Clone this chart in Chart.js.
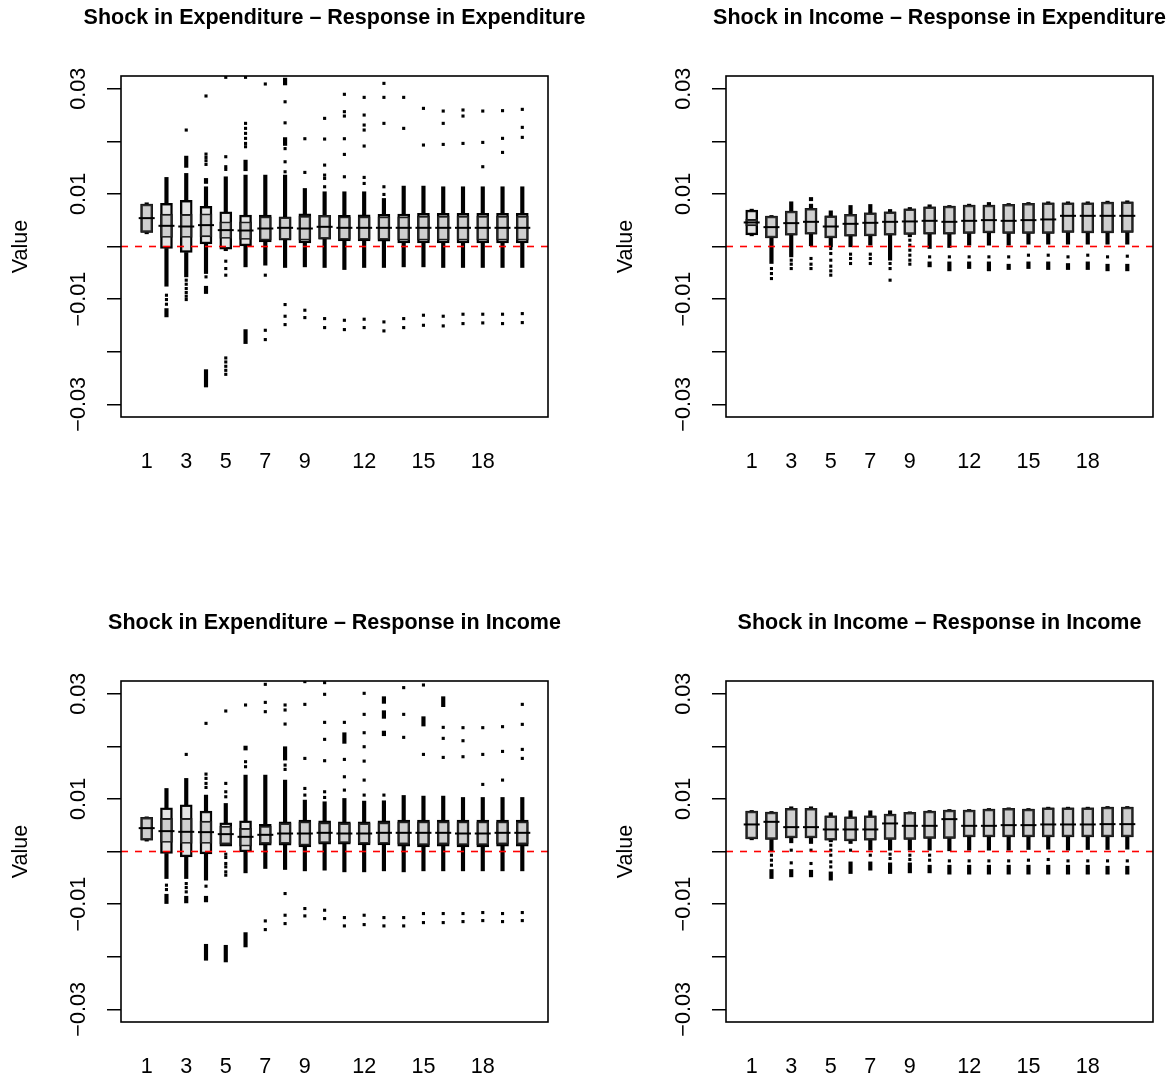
<!DOCTYPE html>
<html>
<head>
<meta charset="utf-8">
<script src="https://cdn.jsdelivr.net/npm/chart.js@4.4.1/dist/chart.umd.min.js"></script>
<style>
  html, body { margin: 0; padding: 0; background: #fff; overflow: hidden; }
  body { width: 1175px; height: 1082px; position: relative; }
  canvas { position: absolute; }
</style>
</head>
<body>
<canvas id="c1" width="669" height="477" style="left:0px;top:0px;"></canvas>
<canvas id="c2" width="669" height="477" style="left:605px;top:0px;"></canvas>
<canvas id="c3" width="669" height="477" style="left:0px;top:605px;"></canvas>
<canvas id="c4" width="669" height="477" style="left:605px;top:605px;"></canvas>
<script>
// ---------------- shared axes ----------------
const steps = [1,2,3,4,5,6,7,8,9,10,11,12,13,14,15,16,17,18,19,20];
const xTickValues = [1,3,5,7,9,12,15,18];
const yTickValues = [-0.03,-0.02,-0.01,0,0.01,0.02,0.03];
const yTickLabels = ['\u22120.03','','\u22120.01','','0.01','','0.03'];
const refLineValue = 0;
const titles = [
  'Shock in Expenditure \u2013 Response in Expenditure',
  'Shock in Income \u2013 Response in Expenditure',
  'Shock in Expenditure \u2013 Response in Income',
  'Shock in Income \u2013 Response in Income'
];

// ---------------- Panel 1: Expenditure -> Expenditure ----------------
const eeMedian = [0.00539,0.00393,0.00380,0.00406,0.00311,0.00304,0.00342,0.00355,0.00342,0.00374,0.00355,0.00355,0.00355,0.00355,0.00355,0.00355,0.00355,0.00355,0.00355,0.00355];
const eeBoxA = [[0.00266,0.00805],[-0.00038,0.00818],[-0.00114,0.00875],[0.00051,0.00761],[-0.00051,0.00659],[0.00013,0.00596],[0.00089,0.00596],[0.00120,0.00564],[0.00070,0.00621],[0.00140,0.00590],[0.00108,0.00590],[0.00108,0.00602],[0.00101,0.00609],[0.00070,0.00615],[0.00070,0.00628],[0.00070,0.00628],[0.00070,0.00628],[0.00070,0.00628],[0.00070,0.00628],[0.00070,0.00628]];
const eeBoxB = [[0.00266,0.00805],[0.00171,0.00615],[0.00171,0.00609],[0.00184,0.00621],[0.00152,0.00469],[0.00133,0.00469],[0.00120,0.00564],[0.00133,0.00552],[0.00120,0.00577],[0.00140,0.00590],[0.00133,0.00564],[0.00133,0.00564],[0.00133,0.00564],[0.00120,0.00564],[0.00120,0.00577],[0.00120,0.00577],[0.00120,0.00577],[0.00120,0.00577],[0.00120,0.00577],[0.00120,0.00577]];
const eeWhisker = [[0.00241,0.00831],[-0.00755,0.01313],[-0.00577,0.01389],[-0.00514,0.01135],[-0.00080,0.01325],[-0.00387,0.01357],[-0.00355,0.01357],[-0.00399,0.01357],[-0.00387,0.01103],[-0.00399,0.01040],[-0.00438,0.01040],[-0.00399,0.01040],[-0.00399,0.00913],[-0.00387,0.01148],[-0.00387,0.01148],[-0.00399,0.01135],[-0.00399,0.01135],[-0.00399,0.01135],[-0.00399,0.01135],[-0.00399,0.01135]];
const eeOutlierRuns = [[2,-0.01338,-0.01179],[3,0.01503,0.01718],[4,0.01198,0.01294],[4,-0.00894,-0.00755],[4,-0.0267,-0.0234],[6,0.01439,0.01642],[6,-0.01845,-0.01579],[8,0.0192,0.0207],[8,0.0307,0.0320]];
const eeOutliers = [
  [2,-0.00926],[2,-0.01008],[2,-0.01097],
  [3,0.02213],[3,-0.00640],[3,-0.00717],[3,-0.00799],[3,-0.00875],[3,-0.00945],[3,-0.01008],
  [4,0.01756],[4,0.01693],[4,0.01630],[4,0.01560],[4,0.0286],[4,-0.00577],
  [5,0.01706],[5,0.01516],[5,0.01465],[5,0.03215],[5,-0.00279],[5,-0.00419],[5,-0.00545],[5,-0.02118],[5,-0.02194],[5,-0.02276],[5,-0.02353],[5,-0.02429],
  [6,0.02340],[6,0.02245],[6,0.02150],[6,0.02055],[6,0.01959],[6,0.01896],[6,0.03215],
  [7,0.03088],[7,-0.00545],[7,-0.01592],[7,-0.01769],
  [8,0.0142],[8,0.0161],[8,0.0186],[8,0.0235],[8,0.0275],[8,-0.01103],[8,-0.01325],[8,-0.01484],
  [9,0.01408],[9,0.02048],[9,-0.01211],[9,-0.01351],
  [10,0.01135],[10,0.01294],[10,0.01357],[10,0.01547],[10,0.02042],[10,0.02435],[10,-0.01370],[10,-0.01541],
  [11,0.01325],[11,0.0175],[11,0.02048],[11,0.02479],[11,0.02562],[11,0.02892],[11,-0.01402],[11,-0.01579],
  [12,0.01198],[12,0.01313],[12,0.01909],[12,0.02213],[12,0.02308],[12,0.02498],[12,0.02834],[12,-0.01382],[12,-0.01541],
  [13,0.00989],[13,0.01135],[13,0.02340],[13,0.02834],[13,0.0310],[13,-0.01433],[13,-0.01604],
  [14,0.02245],[14,0.02834],[14,-0.01370],[14,-0.01541],
  [15,0.01928],[15,0.02625],[15,-0.01306],[15,-0.01497],
  [16,0.01940],[16,0.02340],[16,0.02574],[16,-0.01325],[16,-0.01509],
  [17,0.01959],[17,0.02479],[17,0.02594],[17,-0.01287],[17,-0.01465],
  [18,0.01516],[18,0.01978],[18,0.02574],[18,-0.01287],[18,-0.01452],
  [19,0.01788],[19,0.02055],[19,0.02581],[19,-0.01287],[19,-0.01465],
  [20,0.02074],[20,0.02264],[20,0.02606],[20,-0.01275],[20,-0.01446]
];

// ---------------- Panel 2: Income -> Expenditure ----------------
const ieMedian = [0.00457,0.00368,0.00444,0.00469,0.00380,0.00431,0.00450,0.00469,0.00476,0.00488,0.00469,0.00488,0.00501,0.00488,0.00501,0.00514,0.00583,0.00583,0.00583,0.00583];
const ieBoxA = [[0.00222,0.00691],[0.00165,0.00577],[0.00216,0.00672],[0.00235,0.00723],[0.00165,0.00583],[0.00197,0.00609],[0.00203,0.00640],[0.00216,0.00659],[0.00228,0.00717],[0.00235,0.00755],[0.00235,0.00767],[0.00247,0.00786],[0.00260,0.00786],[0.00247,0.00799],[0.00247,0.00818],[0.00247,0.00831],[0.00266,0.00831],[0.00260,0.00831],[0.00260,0.00843],[0.00266,0.00850]];
const ieBoxB = [[0.00393,0.00514],[0.00165,0.00577],[0.00216,0.00672],[0.00235,0.00723],[0.00165,0.00583],[0.00197,0.00609],[0.00203,0.00640],[0.00216,0.00659],[0.00228,0.00717],[0.00235,0.00755],[0.00235,0.00767],[0.00247,0.00786],[0.00260,0.00786],[0.00247,0.00799],[0.00247,0.00818],[0.00247,0.00831],[0.00266,0.00831],[0.00260,0.00831],[0.00260,0.00843],[0.00266,0.00850]];
const ieWhisker = [[0.00203,0.00710],[-0.00323,0.00590],[-0.00197,0.00850],[0.00013,0.00805],[-0.00006,0.00678],[-0.00006,0.00780],[0.00025,0.00799],[-0.00260,0.00704],[0.00184,0.00742],[-0.00038,0.00793],[-0.00019,0.00780],[0.00025,0.00805],[0.00025,0.00837],[0.00025,0.00818],[0.00044,0.00837],[0.00044,0.00850],[0.00044,0.00850],[0.00044,0.00850],[0.00044,0.00862],[0.00044,0.00869]];
const ieOutlierRuns = [[4,0.00869,0.00932],[10,-0.00387,-0.00292],[11,-0.00463,-0.00292],[12,-0.00419,-0.00292],[13,-0.00463,-0.00292],[14,-0.00438,-0.00336],[15,-0.00419,-0.00292],[16,-0.00438,-0.00292],[17,-0.00438,-0.00323],[18,-0.00438,-0.00292],[19,-0.00463,-0.00336],[20,-0.00463,-0.00336]];
const ieOutliers = [
  [2,-0.00419],[2,-0.00514],[2,-0.00609],
  [3,-0.00260],[3,-0.00336],[3,-0.00419],
  [4,-0.00228],[4,-0.00336],[4,-0.00419],
  [5,-0.00038],[5,-0.00133],[5,-0.00260],[5,-0.00374],[5,-0.00463],[5,-0.00545],
  [6,-0.00146],[6,-0.00228],[6,-0.00323],
  [7,-0.00146],[7,-0.00228],[7,-0.00323],
  [8,-0.00323],[8,-0.00419],[8,-0.00640],
  [9,0.00120],[9,0.00025],[9,-0.00070],[9,-0.00165],[9,-0.00260],[9,-0.00336],
  [10,-0.00197],[11,-0.00197],[12,-0.00197],[13,-0.00197],[14,-0.00197],[15,-0.00165],[16,-0.00165],[17,-0.00197],[18,-0.00165],[19,-0.00197],[20,-0.00184]
];

// ---------------- Panel 3: Expenditure -> Income ----------------
const eiMedian = [0.00444,0.00387,0.00374,0.00368,0.00330,0.00279,0.00317,0.00342,0.00342,0.00355,0.00342,0.00342,0.00355,0.00355,0.00355,0.00355,0.00342,0.00342,0.00355,0.00355];
const eiBoxA = [[0.00216,0.00647],[-0.00038,0.00831],[-0.00101,0.00888],[-0.00044,0.00767],[0.00101,0.00545],[-0.00006,0.00583],[0.00120,0.00514],[0.00120,0.00564],[0.00089,0.00596],[0.00140,0.00583],[0.00140,0.00564],[0.00127,0.00564],[0.00127,0.00583],[0.00101,0.00596],[0.00089,0.00596],[0.00101,0.00596],[0.00089,0.00596],[0.00089,0.00596],[0.00101,0.00596],[0.00101,0.00596]];
const eiBoxB = [[0.00216,0.00647],[0.00171,0.00628],[0.00152,0.00628],[0.00152,0.00577],[0.00140,0.00482],[0.00101,0.00438],[0.00152,0.00482],[0.00152,0.00533],[0.00120,0.00564],[0.00165,0.00545],[0.00165,0.00533],[0.00152,0.00533],[0.00152,0.00545],[0.00140,0.00564],[0.00127,0.00564],[0.00140,0.00564],[0.00127,0.00564],[0.00127,0.00564],[0.00140,0.00564],[0.00140,0.00564]];
const eiWhisker = [[0.00197,0.00659],[-0.00514,0.01198],[-0.00514,0.01389],[-0.00545,0.01072],[0.00101,0.00913],[-0.00406,0.01452],[-0.00323,0.01452],[-0.00342,0.01357],[-0.00368,0.00977],[-0.00355,0.00945],[-0.00387,0.01008],[-0.00387,0.00958],[-0.00368,0.00964],[-0.00387,0.01065],[-0.00368,0.01053],[-0.00368,0.01053],[-0.00368,0.01027],[-0.00368,0.01027],[-0.00368,0.01027],[-0.00368,0.01027]];
const eiOutlierRuns = [[2,-0.00989,-0.00812],[3,-0.00977,-0.00850],[4,-0.00958,-0.00850],[4,-0.02067,-0.01763],[5,-0.02099,-0.01782],[6,0.01928,0.02004],[6,-0.01814,-0.01541],[8,0.01737,0.01991],[11,0.02055,0.02257],[13,0.02200,0.02289],[13,0.02530,0.02676],[13,0.02815,0.02942],[15,0.02384,0.02562],[16,0.02752,0.02942]];
const eiOutliers = [
  [2,-0.00640],[2,-0.00723],
  [3,0.01845],[3,-0.00609],[3,-0.00685],[3,-0.00767],
  [4,0.01471],[4,0.01389],[4,0.01294],[4,0.01217],[4,0.02435],[4,-0.00659],
  [5,0.01294],[5,0.01135],[5,0.01040],[5,0.02670],[5,-0.00051],[5,-0.00114],[5,-0.00228],[5,-0.00292],[5,-0.00387],[5,-0.00450],
  [6,0.01611],[6,0.01706],[6,0.02784],
  [7,0.03177],[7,0.02834],[7,0.02657],[7,-0.01319],[7,-0.01484],
  [8,0.01560],[8,0.01642],[8,0.02422],[8,0.02689],[8,0.02784],[8,-0.00799],[8,-0.01211],[8,-0.01370],
  [9,0.01198],[9,0.01072],[9,0.01769],[9,0.02796],[9,0.03228],[9,-0.01084],[9,-0.01224],
  [10,0.01135],[10,0.01027],[10,0.01725],[10,0.02131],[10,0.02454],[10,0.02987],[10,0.03209],[10,-0.01116],[10,-0.01275],
  [11,0.01167],[11,0.01420],[11,0.01750],[11,0.02454],[11,-0.01256],[11,-0.01414],
  [12,0.01072],[12,0.01357],[12,0.01718],[12,0.01991],[12,0.02257],[12,0.02606],[12,0.03006],[12,-0.01211],[12,-0.01389],
  [13,0.01072],[13,-0.01256],[13,-0.01414],
  [14,0.02169],[14,0.02606],[14,0.03114],[14,-0.01256],[14,-0.01414],
  [15,0.01845],[15,0.03164],[15,-0.01179],[15,-0.01351],
  [16,0.01788],[16,0.02150],[16,0.02359],[16,-0.01179],[16,-0.01351],
  [17,0.01801],[17,0.02105],[17,0.02353],[17,-0.01179],[17,-0.01332],
  [18,0.01275],[18,0.01845],[18,0.02353],[18,-0.01160],[18,-0.01313],
  [19,0.01357],[19,0.01902],[19,0.02372],[19,-0.01179],[19,-0.01332],
  [20,0.01769],[20,0.01940],[20,0.02416],[20,0.02796],[20,-0.01160],[20,-0.01313]
];

// ---------------- Panel 4: Income -> Income ----------------
const iiMedian = [0.00514,0.00564,0.00463,0.00463,0.00419,0.00419,0.00419,0.00533,0.00488,0.00488,0.00615,0.00488,0.00488,0.00501,0.00501,0.00514,0.00514,0.00514,0.00520,0.00520];
const iiBoxA = [[0.00241,0.00767],[0.00228,0.00748],[0.00260,0.00818],[0.00260,0.00818],[0.00216,0.00679],[0.00203,0.00659],[0.00216,0.00679],[0.00228,0.00710],[0.00228,0.00742],[0.00247,0.00767],[0.00247,0.00786],[0.00279,0.00786],[0.00279,0.00805],[0.00279,0.00818],[0.00279,0.00805],[0.00279,0.00831],[0.00279,0.00831],[0.00279,0.00831],[0.00279,0.00843],[0.00279,0.00843]];
const iiBoxB = [[0.00241,0.00767],[0.00228,0.00748],[0.00260,0.00818],[0.00260,0.00818],[0.00216,0.00679],[0.00203,0.00659],[0.00216,0.00679],[0.00228,0.00710],[0.00228,0.00742],[0.00247,0.00767],[0.00247,0.00786],[0.00279,0.00786],[0.00279,0.00805],[0.00279,0.00818],[0.00279,0.00805],[0.00279,0.00831],[0.00279,0.00831],[0.00279,0.00831],[0.00279,0.00843],[0.00279,0.00843]];
const iiWhisker = [[0.00222,0.00780],[-0.00006,0.00761],[0.00165,0.00850],[0.00152,0.00850],[0.00184,0.00736],[0.00152,0.00774],[0.00025,0.00774],[0.00025,0.00774],[0.00025,0.00755],[0.00025,0.00780],[0.00013,0.00799],[0.00025,0.00799],[0.00025,0.00818],[0.00025,0.00831],[0.00038,0.00818],[0.00044,0.00843],[0.00025,0.00843],[0.00038,0.00843],[0.00038,0.00856],[0.00044,0.00856]];
const iiOutlierRuns = [[2,-0.00514,-0.00342],[3,-0.00482,-0.00342],[4,-0.00482,-0.00355],[5,-0.00545,-0.00387],[6,-0.00419,-0.00197],[7,-0.00355,-0.00197],[8,-0.00419,-0.00216],[9,-0.00406,-0.00216],[10,-0.00406,-0.00260],[11,-0.00431,-0.00260],[12,-0.00431,-0.00260],[13,-0.00431,-0.00260],[14,-0.00431,-0.00260],[15,-0.00431,-0.00260],[16,-0.00431,-0.00260],[17,-0.00431,-0.00260],[18,-0.00431,-0.00260],[19,-0.00431,-0.00279],[20,-0.00431,-0.00279]];
const iiOutliers = [
  [2,-0.00070],[2,-0.00165],[2,-0.00260],
  [3,0.00025],[3,-0.00216],
  [4,0.00025],[4,-0.00228],
  [5,0.00120],[5,0.00025],[5,-0.00070],[5,-0.00197],[5,-0.00292],
  [6,0.00025],[7,-0.00070],
  [8,-0.00051],[8,-0.00133],
  [9,-0.00070],[9,-0.00152],
  [10,-0.00070],[10,-0.00165],
  [11,-0.00178],[12,-0.00178],[13,-0.00178],[14,-0.00178],[15,-0.00165],[16,-0.00152],[17,-0.00178],[18,-0.00178],[19,-0.00178],[20,-0.00178]
];

// ---------------- rendering ----------------
const FONT = "'Liberation Sans', Arial, Helvetica, sans-serif";
Chart.defaults.font.family = FONT;
Chart.defaults.color = '#000';

const framePlugin = {
  id: 'frame',
  afterDatasetsDraw(chart) {
    const {ctx, chartArea: a} = chart;
    const y = chart.scales.y.getPixelForValue(refLineValue);
    ctx.save();
    ctx.beginPath();
    ctx.rect(a.left, a.top, a.right - a.left, a.bottom - a.top);
    ctx.clip();
    ctx.strokeStyle = '#ff0000';
    ctx.lineWidth = 1.6;
    ctx.setLineDash([7, 7]);
    ctx.beginPath();
    ctx.moveTo(a.left, y);
    ctx.lineTo(a.right, y);
    ctx.stroke();
    ctx.restore();
  },
  afterDraw(chart) {
    const {ctx, chartArea: a} = chart;
    ctx.save();
    ctx.strokeStyle = '#000';
    ctx.lineWidth = 1.6;
    ctx.strokeRect(a.left, a.top, a.right - a.left, a.bottom - a.top);
    ctx.restore();
  }
};

function makePanel(id, title, med, boxA, boxB, whisk, runs, pts) {
  const boxFill = 'rgba(128,128,128,0.21)';
  // whiskers are drawn from the box edges outward
  const upperWhisker = [], lowerWhisker = [];
  whisk.forEach((w, i) => {
    const top = Math.max(boxA[i][1], boxB[i][1]);
    const bot = Math.min(boxA[i][0], boxB[i][0]);
    if (w[1] > top) upperWhisker.push({x: steps[i], y: [top, w[1]]});
    if (w[0] < bot) lowerWhisker.push({x: steps[i], y: [w[0], bot]});
  });
  new Chart(document.getElementById(id), {
    type: 'bar',
    data: {
      datasets: [
        { type: 'scatter', order: 1, data: med.map((v, i) => ({x: steps[i], y: v})),
          pointStyle: 'line', radius: 8, borderWidth: 2, borderColor: '#000', backgroundColor: '#000' },
        { type: 'bar', order: 2, data: boxB.map((r, i) => ({x: steps[i], y: r})),
          barThickness: 12, backgroundColor: boxFill, borderColor: '#1a1a1a', borderWidth: 1.2, borderSkipped: false, grouped: false },
        { type: 'bar', order: 3, data: boxA.map((r, i) => ({x: steps[i], y: r})),
          barThickness: 12, backgroundColor: boxFill, borderColor: '#000', borderWidth: 1.8, borderSkipped: false, grouped: false },
        { type: 'scatter', order: 4, data: pts.map(p => ({x: p[0], y: p[1]})),
          pointStyle: 'rect', radius: 2.2, borderWidth: 0, backgroundColor: '#000' },
        { type: 'bar', order: 5, data: upperWhisker,
          barThickness: 3.5, backgroundColor: '#000', borderWidth: 0, grouped: false },
        { type: 'bar', order: 6, data: lowerWhisker,
          barThickness: 3.5, backgroundColor: '#000', borderWidth: 0, grouped: false },
        { type: 'bar', order: 7, data: runs.map(r => ({x: r[0], y: [r[1], r[2]]})),
          barThickness: 3.5, backgroundColor: '#000', borderWidth: 0, grouped: false }
      ]
    },
    options: {
      responsive: false,
      animation: false,
      events: [],
      layout: { padding: 0 },
      plugins: {
        legend: { display: false },
        tooltip: { enabled: false },
        title: { display: true, text: title, color: '#000',
          font: { size: 21.5, weight: 'bold', family: FONT }, padding: { top: 5, bottom: 45.2 } }
      },
      scales: {
        x: {
          type: 'linear', min: -0.3, max: 21.3, offset: false,
          afterBuildTicks: s => { s.ticks = xTickValues.map(v => ({value: v})); },
          afterFit: s => { s.height = 60; },
          grid: { display: false, drawTicks: false },
          border: { display: false },
          ticks: { font: { size: 21.6, family: FONT }, color: '#000', padding: 32, maxRotation: 0, autoSkip: false,
            callback: v => String(v) }
        },
        y: {
          type: 'linear', min: -0.0324, max: 0.0324,
          afterBuildTicks: s => { s.ticks = yTickValues.map(v => ({value: v})); },
          afterFit: s => { s.width = 121; },
          grid: { display: true, drawOnChartArea: false, drawTicks: true, tickLength: 14, color: '#000', lineWidth: 1.5 },
          border: { display: false },
          title: { display: true, text: 'Value', color: '#000', font: { size: 21.6, family: FONT }, padding: { top: 8, bottom: 0 } },
          ticks: { font: { size: 21.6, family: FONT }, color: '#000', padding: 1, minRotation: 90, maxRotation: 90,
            crossAlign: 'center', autoSkip: false,
            callback: (v) => yTickLabels[yTickValues.findIndex(t => Math.abs(t - v) < 1e-9)] }
        },
        yRight: {
          type: 'linear', position: 'right', min: -0.0324, max: 0.0324,
          afterFit: s => { s.width = 121; },
          grid: { display: false, drawTicks: false },
          border: { display: false },
          ticks: { display: false }
        }
      }
    },
    plugins: [framePlugin]
  });
}

makePanel('c1', titles[0], eeMedian, eeBoxA, eeBoxB, eeWhisker, eeOutlierRuns, eeOutliers);
makePanel('c2', titles[1], ieMedian, ieBoxA, ieBoxB, ieWhisker, ieOutlierRuns, ieOutliers);
makePanel('c3', titles[2], eiMedian, eiBoxA, eiBoxB, eiWhisker, eiOutlierRuns, eiOutliers);
makePanel('c4', titles[3], iiMedian, iiBoxA, iiBoxB, iiWhisker, iiOutlierRuns, iiOutliers);
</script>
</body>
</html>
